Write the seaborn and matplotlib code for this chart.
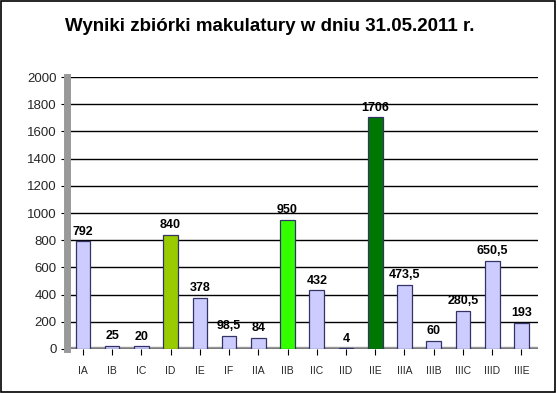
import numpy as np
import pandas as pd
import matplotlib
matplotlib.use('Agg')
import matplotlib.pyplot as plt
import seaborn as sns

# data
classes = ['IA', 'IB', 'IC', 'ID', 'IE', 'IF', 'IIA', 'IIB', 'IIC', 'IID',
           'IIE', 'IIIA', 'IIIB', 'IIIC', 'IIID', 'IIIE']
kg = [792, 25, 20, 840, 378, 98.5, 84, 950, 432, 4,
      1706, 473.5, 60, 280.5, 650.5, 193]
bar_colors = ['#CCCCFF', '#CCCCFF', '#CCCCFF', '#99CC00', '#CCCCFF', '#CCCCFF',
              '#CCCCFF', '#33FF00', '#CCCCFF', '#CCCCFF', '#007700', '#CCCCFF',
              '#CCCCFF', '#CCCCFF', '#CCCCFF', '#CCCCFF']

df = pd.DataFrame({'klasa': classes, 'kg': kg})

sns.set_style('white')
plt.rcParams['font.family'] = ['Liberation Sans', 'DejaVu Sans']

fig = plt.figure(figsize=(5.57, 3.93), dpi=100)
ax = fig.add_axes([0.12, 0.112, 0.845, 0.692])

# grid lines behind bars
ax.set_ylim(0, 2000)
ax.set_yticks(range(0, 2001, 200))
ax.yaxis.grid(True, color='black', linewidth=1.0)
ax.set_axisbelow(True)

sns.barplot(data=df, x='klasa', y='kg', hue='klasa', palette=bar_colors,
            legend=False, width=0.5, saturation=1, edgecolor='#333366',
            linewidth=0.9, ax=ax)

# value labels, Polish decimal comma
for i, v in enumerate(kg):
    txt = f'{v:g}'.replace('.', ',')
    ax.text(i, v + 25, txt, ha='center', va='bottom', fontsize=9,
            fontweight='bold', color='black')

# grey floor and wall to hint the 3D look
ax.axhspan(0, 18, color='#999999', zorder=0.5)
for side in ['top', 'right', 'bottom']:
    ax.spines[side].set_visible(False)
ax.spines['left'].set_color('#999999')
ax.spines['left'].set_linewidth(5)

ax.set_xlabel('')
ax.set_ylabel('')
ax.tick_params(axis='y', labelsize=9.5, length=4, color='black', direction='out', left=True)
ax.tick_params(axis='x', labelsize=7.5, length=4, color='black', direction='out', bottom=True, pad=8)
ax.set_xlim(-0.55, len(classes) - 0.45)

fig.suptitle('Wyniki zbiórki makulatury w dniu 31.05.2011 r.', x=0.485, y=0.955,
             fontsize=13.5, fontweight='bold', color='black')

# border round the whole picture
fig.patches.append(plt.Rectangle((0.002, 0.003), 0.995, 0.994, transform=fig.transFigure,
                                 fill=False, edgecolor='black', linewidth=1.2))

fig.savefig('out.png', dpi=100)
